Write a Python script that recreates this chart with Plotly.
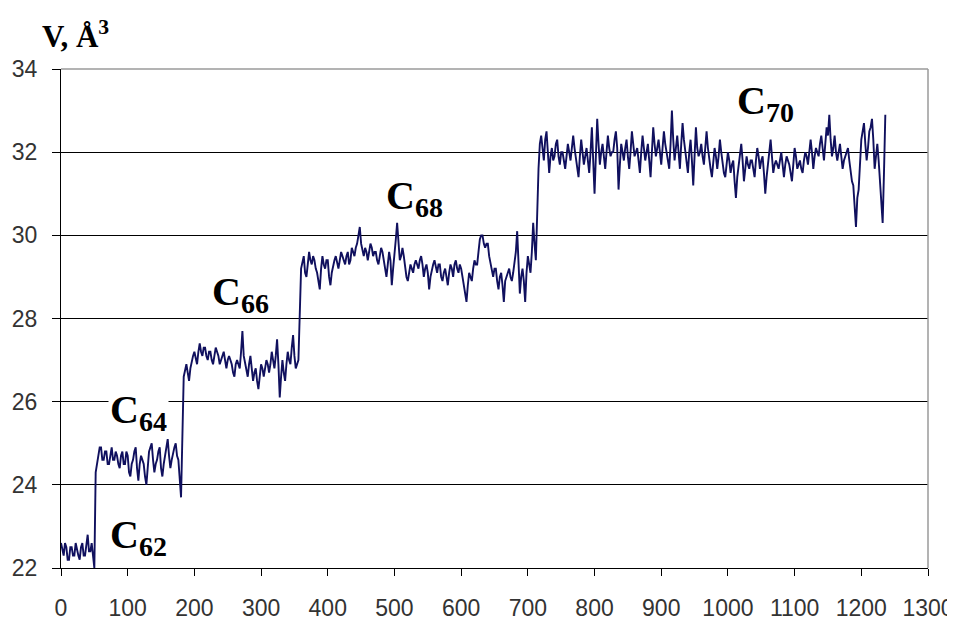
import plotly.graph_objects as go

# ---- data ----
time_step = 2
segment_starts = [0, 52, 184, 360, 716]

c62_volume = [22.6, 22.4, 22.3, 22.6, 22.5, 22.2, 22.2, 22.5, 22.5, 22.3,
              22.3, 22.6, 22.4, 22.3, 22.2, 22.5, 22.6, 22.3, 22.3, 22.5,
              22.8, 22.4, 22.4, 22.6, 22.3, 22.0]

c64_volume = [24.3, 24.5, 24.7, 24.9, 24.9, 24.6, 24.6, 24.8, 24.8, 24.5,
              24.5, 24.7, 24.9, 24.6, 24.6, 24.8, 24.7, 24.5, 24.4, 24.7,
              24.8, 24.5, 24.5, 24.8, 24.7, 24.3, 24.2, 24.5, 24.6, 24.8,
              24.9, 24.4, 24.1, 24.5, 24.7, 24.6, 24.5, 24.2, 24.0, 24.4,
              24.8, 24.9, 25.0, 24.6, 24.3, 24.5, 24.6, 24.8, 24.9, 24.4,
              24.2, 24.5, 24.7, 25.0, 25.1, 24.7, 24.4, 24.6, 24.8, 24.9,
              25.0, 24.7, 24.6, 24.2, 23.7]

c66_volume = [26.6, 26.8, 26.9, 26.7, 26.5, 26.8, 27.0, 27.1, 27.2, 27.0,
              26.9, 27.2, 27.4, 27.2, 27.1, 27.3, 27.3, 27.1, 27.0, 27.2,
              27.2, 27.0, 26.9, 27.1, 27.3, 27.2, 27.1, 26.9, 27.0, 27.1,
              27.2, 27.0, 26.8, 27.0, 27.1, 27.0, 26.9, 26.7, 26.6, 26.9,
              27.0, 26.9, 26.8, 27.2, 27.7, 27.1, 26.9, 26.7, 26.6, 26.9,
              27.1, 26.8, 26.5, 26.7, 26.8, 26.5, 26.3, 26.6, 26.9, 26.8,
              26.6, 26.8, 27.0, 26.9, 26.7, 26.9, 27.2, 27.0, 26.8, 27.1,
              27.5, 26.9, 26.1, 26.6, 27.0, 26.7, 26.5, 26.9, 27.2, 27.0,
              26.9, 27.3, 27.6, 27.1, 26.8, 26.9, 27.0]

c68_volume = [29.2, 29.4, 29.5, 29.1, 29.0, 29.3, 29.6, 29.4, 29.3, 29.5,
              29.4, 29.2, 29.1, 28.9, 28.7, 29.2, 29.5, 29.3, 29.2, 29.4,
              29.4, 29.0, 28.8, 29.1, 29.3, 29.4, 29.5, 29.3, 29.2, 29.4,
              29.6, 29.5, 29.4, 29.3, 29.5, 29.6, 29.3, 29.4, 29.7, 29.6,
              29.5, 29.7, 29.8, 30.0, 30.2, 29.8, 29.6, 29.5, 29.7, 29.6,
              29.4, 29.6, 29.8, 29.7, 29.5, 29.6, 29.6, 29.4, 29.3, 29.5,
              29.7, 29.6, 29.4, 29.2, 29.0, 29.3, 29.6, 29.4, 28.8, 29.2,
              29.5, 29.9, 30.3, 29.8, 29.4, 29.5, 29.7, 29.5, 29.2, 29.0,
              28.9, 29.1, 29.3, 29.2, 29.1, 29.3, 29.4, 29.3, 29.2, 29.4,
              29.5, 29.3, 29.0, 29.2, 29.3, 29.1, 28.7, 29.0, 29.2, 29.3,
              29.4, 29.2, 29.1, 29.3, 29.3, 29.0, 28.9, 29.1, 29.2, 29.0,
              28.8, 29.1, 29.3, 29.2, 29.0, 29.3, 29.4, 29.2, 29.1, 29.3,
              29.2, 29.0, 28.8, 28.6, 28.4, 28.8, 29.1, 29.0, 28.9, 29.2,
              29.4, 29.3, 29.3, 29.6, 29.9, 30.0, 30.0, 29.8, 29.7, 29.8,
              29.8, 29.5, 29.3, 29.1, 29.0, 29.2, 29.2, 28.9, 28.7, 29.0,
              29.1, 28.8, 28.4, 28.9, 29.0, 29.1, 29.2, 29.0, 28.9, 29.1,
              29.3, 29.6, 30.1, 29.4, 28.6, 29.0, 29.2, 28.9, 28.4, 29.1,
              29.5, 29.3, 29.1, 29.6, 30.3, 29.8, 29.4]

c70_volume = [31.6, 32.2, 32.4, 32.0, 31.8, 32.3, 32.5, 32.0, 31.5, 31.9,
              32.1, 31.8, 31.9, 32.2, 32.3, 31.9, 31.7, 32.0, 32.0, 31.8,
              31.6, 31.9, 32.2, 32.0, 31.8, 32.1, 32.4, 32.1, 31.9, 31.6,
              31.4, 31.9, 32.3, 32.0, 31.7, 31.9, 32.1, 31.8, 31.5, 32.0,
              32.6, 31.8, 31.0, 31.9, 32.8, 32.2, 31.7, 32.0, 32.2, 31.9,
              31.6, 32.0, 32.4, 32.1, 31.9, 32.0, 32.0, 32.3, 32.5, 32.1,
              31.1, 31.7, 32.2, 32.0, 31.8, 32.1, 32.3, 31.9, 31.6, 32.0,
              32.5, 32.2, 31.9, 32.0, 32.1, 31.8, 31.5, 32.0, 32.4, 32.1,
              31.8, 32.0, 32.2, 31.8, 31.4, 32.0, 32.6, 32.2, 31.9, 32.1,
              32.3, 32.0, 31.7, 32.1, 32.5, 32.2, 32.0, 31.8, 31.6, 32.2,
              33.0, 32.3, 31.8, 32.1, 32.4, 32.0, 31.6, 32.2, 32.7, 32.3,
              32.0, 31.7, 31.5, 32.0, 32.3, 31.8, 31.2, 31.9, 32.6, 32.1,
              31.9, 32.0, 32.2, 31.9, 31.7, 32.1, 32.5, 32.1, 31.8, 31.6,
              31.4, 31.8, 32.1, 31.9, 31.6, 31.9, 32.3, 32.0, 31.7, 31.5,
              31.4, 31.7, 32.0, 31.8, 31.5, 31.7, 31.8, 31.3, 30.9, 31.4,
              31.7, 32.0, 32.2, 31.8, 31.3, 31.6, 31.9, 31.7, 31.6, 31.8,
              31.8, 31.6, 31.4, 31.8, 32.1, 31.9, 31.6, 31.8, 31.9, 31.5,
              31.0, 31.4, 31.7, 32.0, 32.3, 31.9, 31.5, 31.7, 31.8, 31.7,
              31.6, 31.8, 32.0, 31.7, 31.4, 31.7, 31.9, 31.8, 31.7, 31.5,
              31.3, 31.7, 32.1, 31.9, 31.6, 31.7, 31.8, 31.6, 31.5, 31.8,
              32.0, 31.9, 31.7, 32.0, 32.3, 32.0, 31.6, 31.9, 32.1, 32.0,
              31.9, 32.2, 32.4, 32.1, 31.8, 32.2, 32.6, 32.4, 32.9, 32.3,
              31.9, 32.1, 32.4, 32.0, 31.8, 32.0, 32.2, 31.9, 31.6, 31.8,
              31.9, 32.0, 32.1, 31.8, 31.5, 31.3, 31.2, 30.8, 30.2, 30.9,
              31.1, 31.7, 32.3, 32.5, 32.7, 32.2, 31.8, 32.1, 32.5, 32.6,
              32.8, 32.3, 31.6, 31.9, 32.2, 31.8, 31.3, 31.0, 30.3, 31.5,
              32.9]

segments = [c62_volume, c64_volume, c66_volume, c68_volume, c70_volume]
segment_names = ["62", "64", "66", "68", "70"]
label_x = [70, 70, 223, 484, 1011]
label_y = [22.75, 25.75, 28.6, 30.9, 33.18]

x_ticks = list(range(0, 1301, 100))
y_ticks = [22, 24, 26, 28, 30, 32, 34]

# ---- build series ----
times, volumes = [], []
for start, seg in zip(segment_starts, segments):
    for i, v in enumerate(seg):
        times.append(start + i * time_step)
        volumes.append(v)

fig = go.Figure()
fig.add_trace(go.Scatter(x=times, y=volumes, mode="lines",
                         line=dict(color="#10105e", width=1.9),
                         showlegend=False, hoverinfo="x+y"))

tick_font = dict(family="Liberation Sans, Arial, sans-serif", size=23, color="#333333")

fig.update_xaxes(range=[0, 1300], tickvals=x_ticks, ticks="outside", ticklen=7,
                 tickcolor="black", showline=True, linecolor="black", linewidth=1,
                 showgrid=False, zeroline=False, tickfont=tick_font,
                 ticklabelstandoff=12, automargin=False)
fig.update_yaxes(range=[22, 34], tickvals=y_ticks, ticks="outside", ticklen=8,
                 tickcolor="black", showline=True, linecolor="black", linewidth=1,
                 showgrid=True, gridcolor="black", gridwidth=1, zeroline=False,
                 tickfont=tick_font, ticklabelstandoff=10, automargin=False)

label_font = dict(family="Liberation Serif, Times New Roman, serif", size=40, color="black")
annotations = []
for name, lx, ly in zip(segment_names, label_x, label_y):
    annotations.append(dict(x=lx, y=ly, xref="x", yref="y",
                            text="<b>C<sub>%s</sub></b>" % name,
                            showarrow=False, xanchor="left", yanchor="middle",
                            font=label_font,
                            bgcolor="white" if name == "64" else None))

# The page places the figure 8px in from the top-left corner (default body margin),
# so the figure is made 8px smaller and margins reduced to keep the plot area in place.
page_offset = 8
fig_w, fig_h = 955 - page_offset, 621 - page_offset
m_l, m_r, m_t, m_b = 61 - page_offset, 27, 69 - page_offset, 53
plot_w = fig_w - m_l - m_r
plot_h = fig_h - m_t - m_b
annotations.append(dict(x=(40 - 61) / plot_w, y=(568 - 35) / plot_h,
                        xref="paper", yref="paper",
                        text="<b>V, Å<sup>3</sup></b>", showarrow=False,
                        xanchor="left", yanchor="middle",
                        font=dict(family="Liberation Serif, Times New Roman, serif",
                                  size=31, color="black")))

fig.update_layout(
    width=fig_w, height=fig_h,
    margin=dict(l=m_l, r=m_r, t=m_t, b=m_b),
    plot_bgcolor="white", paper_bgcolor="white",
    annotations=annotations,
    shapes=[
        dict(type="line", xref="paper", yref="paper", x0=0, x1=1, y0=1, y1=1,
             line=dict(color="#9a9a9a", width=1.5), layer="above"),
        dict(type="line", xref="paper", yref="paper", x0=1, x1=1, y0=0, y1=1,
             line=dict(color="#9a9a9a", width=1.5), layer="above"),
    ],
)

fig.write_html("out.html")
